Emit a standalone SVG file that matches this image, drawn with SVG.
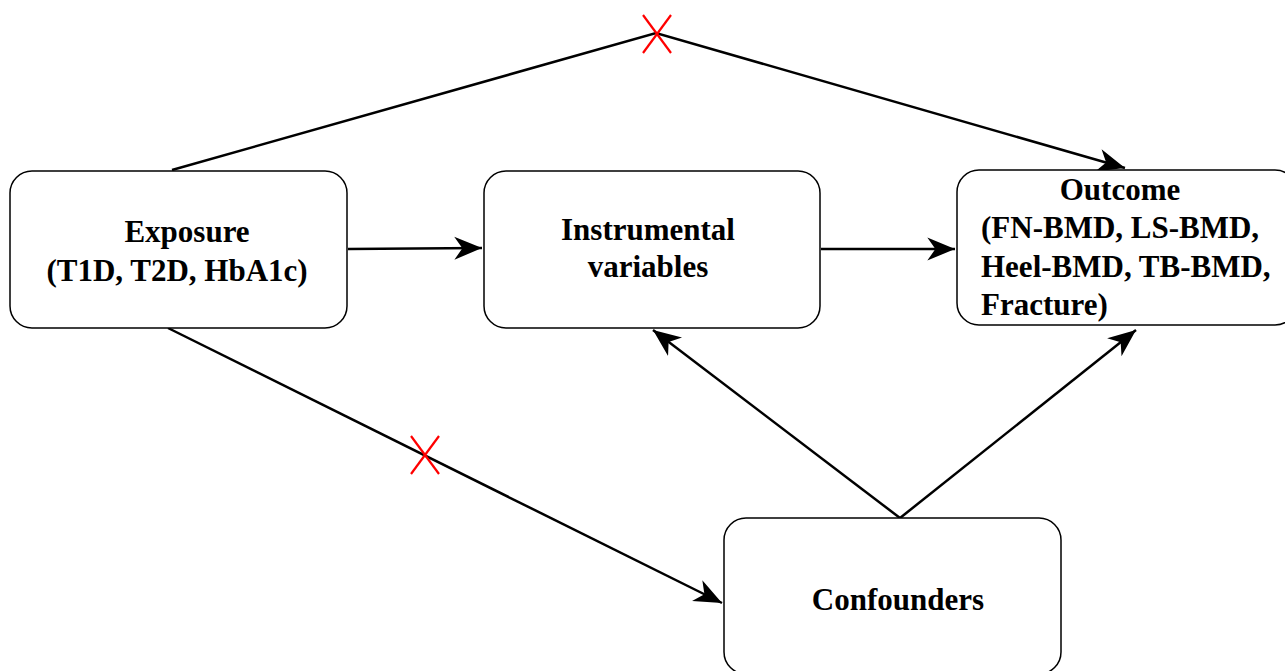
<svg xmlns="http://www.w3.org/2000/svg" width="1285" height="671" viewBox="0 0 1285 671">
<style>
.box{fill:#fff;stroke:#000;stroke-width:1.5}
.t{font-family:"Liberation Serif","Times New Roman",serif;font-weight:bold;font-size:31px;fill:#000}
.c{fill:none;stroke:#000;stroke-width:2.5}
.x{stroke:#ff0000;stroke-width:2.2}
</style>
<defs>
<marker id="arr" markerUnits="userSpaceOnUse" markerWidth="30" markerHeight="30" viewBox="-24 -12 26 24" refX="0" refY="0" orient="auto">
<path d="M0,0 L-24,-10 L-17,0 L-24,10 Z" fill="#000"/>
</marker>
</defs>
<rect width="1285" height="671" fill="#fff"/>
<g id="connectors">
<polyline class="c" points="172,170 656,33 1125,168" marker-end="url(#arr)"/>
<line class="c" x1="348" y1="249" x2="482" y2="248" marker-end="url(#arr)"/>
<line class="c" x1="821" y1="249" x2="955" y2="249" marker-end="url(#arr)"/>
<line class="c" x1="168" y1="328" x2="722" y2="603" marker-end="url(#arr)"/>
<line class="c" x1="900" y1="518" x2="653" y2="330" marker-end="url(#arr)"/>
<line class="c" x1="900" y1="518" x2="1136" y2="330" marker-end="url(#arr)"/>
<g id="cross-top">
<line class="x" x1="643" y1="15" x2="671" y2="53"/>
<line class="x" x1="671" y1="15" x2="643" y2="53"/>
</g>
<g id="cross-bottom">
<line class="x" x1="411" y1="436" x2="439" y2="474"/>
<line class="x" x1="439" y1="436" x2="411" y2="474"/>
</g>
</g>
<g id="exposure">
<rect class="box" x="10" y="171" width="337" height="157" rx="22"/>
<text class="t" x="187" y="242" text-anchor="middle">Exposure</text>
<text class="t" x="177" y="281" text-anchor="middle">(T1D, T2D, HbA1c)</text>
</g>
<g id="instrumental">
<rect class="box" x="484" y="171" width="336" height="157" rx="22"/>
<text class="t" x="648" y="240" text-anchor="middle">Instrumental</text>
<text class="t" x="648" y="277" text-anchor="middle">variables</text>
</g>
<g id="outcome">
<rect class="box" x="957" y="170" width="340" height="155" rx="22"/>
<text class="t" x="1120" y="200" text-anchor="middle">Outcome</text>
<text class="t" x="981" y="238">(FN-BMD, LS-BMD,</text>
<text class="t" x="981" y="277">Heel-BMD, TB-BMD,</text>
<text class="t" x="981" y="315">Fracture)</text>
</g>
<g id="confounders">
<rect class="box" x="724" y="518" width="337" height="156" rx="22"/>
<text class="t" x="898" y="610" text-anchor="middle">Confounders</text>
</g>
</svg>
